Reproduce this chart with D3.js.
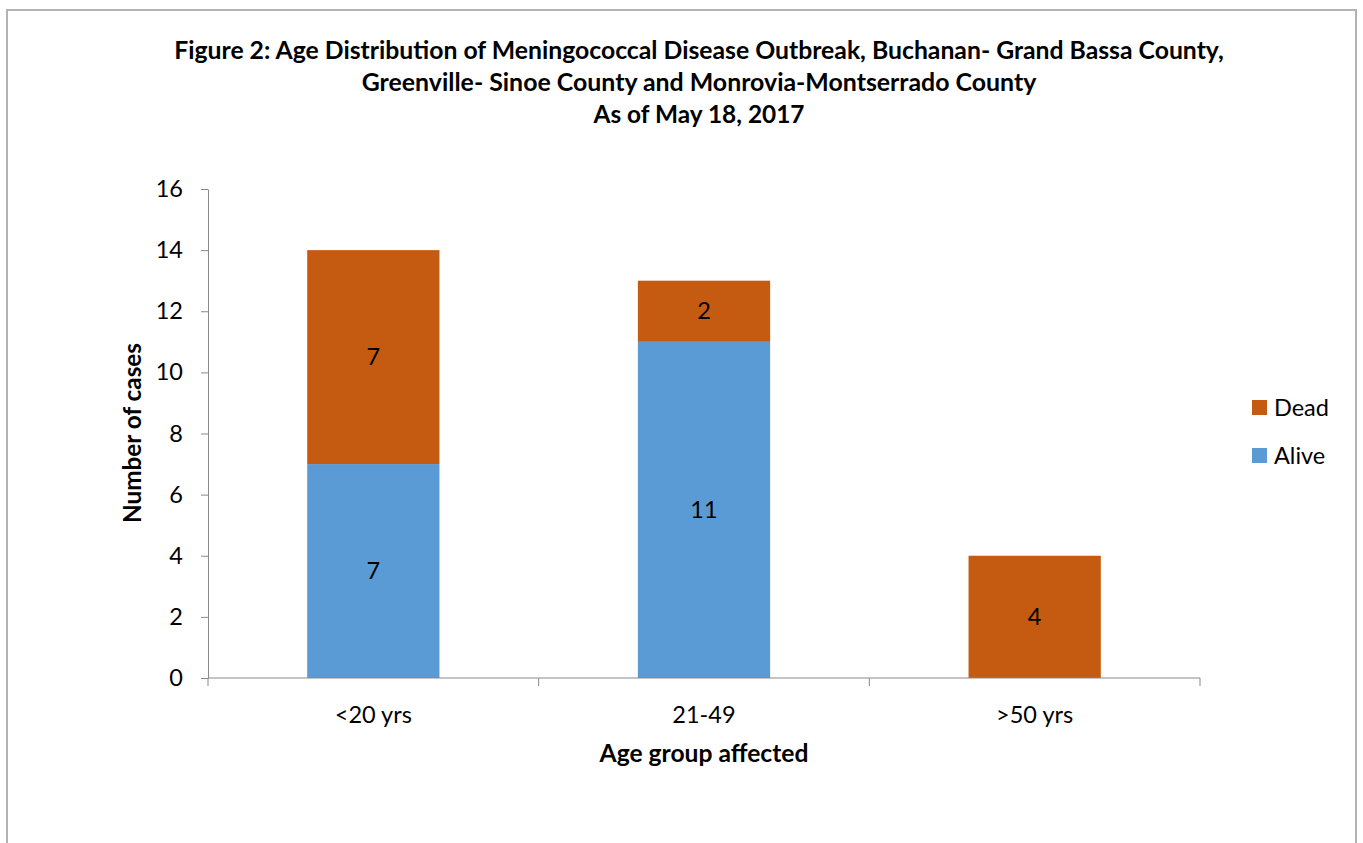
<!DOCTYPE html>
<html>
<head>
<meta charset="utf-8">
<script src="https://cdn.jsdelivr.net/npm/d3@7"></script>
<style>
  body { margin: 0; background: #fff; }
  svg { display: block; font-family: Lato, "Open Sans", sans-serif; }
</style>
</head>
<body>
<div id="chart"></div>
<script>
const categories = ['<20 yrs', '21-49', '>50 yrs'];
const alive = [7, 11, 0];
const dead = [7, 2, 4];
const yTicks = [0, 2, 4, 6, 8, 10, 12, 14, 16];
const titleLines = [
  'Figure 2: Age Distribution of Meningococcal Disease Outbreak, Buchanan- Grand Bassa County,',
  'Greenville- Sinoe County and Monrovia-Montserrado County',
  'As of May 18, 2017'
];

const width = 1363, height = 843;
const colors = { Dead: '#C55A11', Alive: '#5B9BD5' };
const axisColor = '#898989';
const labelSize = 23.5;

const svg = d3.select('#chart').append('svg')
  .attr('width', width)
  .attr('height', height);

// chart frame (bottom edge is cut off in the original)
svg.append('rect')
  .attr('x', 7).attr('y', 10)
  .attr('width', 1349).attr('height', 900)
  .attr('fill', '#fff')
  .attr('stroke', '#b3b3b3')
  .attr('stroke-width', 2);

// shrink/grow a text node so it spans the wanted width
function fit(sel, target) {
  sel.each(function () {
    const fs = parseFloat(this.getAttribute('font-size'));
    const w = this.getComputedTextLength();
    this.setAttribute('font-size', (fs * target / w).toFixed(2));
  });
}

const titleWidths = [1050, 675, 211];
svg.append('g').selectAll('text')
  .data(titleLines)
  .join('text')
  .attr('x', 699)
  .attr('y', (d, i) => 59 + i * 32)
  .attr('text-anchor', 'middle')
  .attr('font-weight', 'bold')
  .attr('font-size', 20)
  .attr('fill', '#000')
  .text((d) => d)
  .each(function (d, i) { fit(d3.select(this), titleWidths[i]); });

const x = d3.scaleBand()
  .domain(categories)
  .range([208, 1200])
  .paddingInner(0.6)
  .paddingOuter(0.3);

const y = d3.scaleLinear()
  .domain([0, 16])
  .range([678, 189]);

const rows = categories.map((c, i) => ({ cat: c, Alive: alive[i], Dead: dead[i] }));
const stack = d3.stack().keys(['Alive', 'Dead'])(rows);

const g = svg.append('g');

stack.forEach((layer) => {
  g.append('g')
    .attr('fill', colors[layer.key])
    .selectAll('rect')
    .data(layer.filter((d) => d[1] > d[0]))
    .join('rect')
    .attr('x', (d) => x(d.data.cat))
    .attr('y', (d) => y(d[1]))
    .attr('width', x.bandwidth())
    .attr('height', (d) => y(d[0]) - y(d[1]));

  g.append('g')
    .selectAll('text')
    .data(layer.filter((d) => d[1] > d[0]))
    .join('text')
    .attr('x', (d) => x(d.data.cat) + x.bandwidth() / 2)
    .attr('y', (d) => (y(d[0]) + y(d[1])) / 2)
    .attr('dy', '0.35em')
    .attr('text-anchor', 'middle')
    .attr('font-size', labelSize)
    .attr('fill', '#000')
    .text((d) => d[1] - d[0]);
});

// y axis
const yAxis = svg.append('g')
  .attr('transform', 'translate(208,0)')
  .call(d3.axisLeft(y).tickValues(yTicks).tickSize(7).tickPadding(18).tickSizeOuter(0));
yAxis.select('.domain').attr('stroke', axisColor);
yAxis.selectAll('.tick line').attr('stroke', axisColor);
yAxis.selectAll('.tick text')
  .attr('font-family', 'Lato, sans-serif')
  .attr('font-size', labelSize)
  .attr('fill', '#000');

// x axis: line with ticks at the category boundaries
const xBase = svg.append('g').attr('transform', `translate(0,${y(0)})`);
xBase.append('line')
  .attr('x1', x.range()[0]).attr('x2', x.range()[1])
  .attr('stroke', axisColor);
const bounds = d3.range(categories.length + 1).map((i) => x.range()[0] + i * x.step());
xBase.selectAll('.xtick')
  .data(bounds)
  .join('line')
  .attr('class', 'xtick')
  .attr('x1', (d) => d).attr('x2', (d) => d)
  .attr('y1', 0).attr('y2', 8)
  .attr('stroke', axisColor);
xBase.selectAll('.xlabel')
  .data(categories)
  .join('text')
  .attr('class', 'xlabel')
  .attr('x', (d) => x(d) + x.bandwidth() / 2)
  .attr('y', 45)
  .attr('text-anchor', 'middle')
  .attr('font-size', labelSize)
  .attr('fill', '#000')
  .text((d) => d);

// axis titles
svg.append('text')
  .attr('x', 704).attr('y', 762)
  .attr('text-anchor', 'middle')
  .attr('font-weight', 'bold')
  .attr('font-size', 22)
  .text('Age group affected')
  .call(fit, 209);

svg.append('text')
  .attr('transform', 'translate(141,433) rotate(-90)')
  .attr('text-anchor', 'middle')
  .attr('font-weight', 'bold')
  .attr('font-size', 22)
  .text('Number of cases')
  .call(fit, 180);

// legend
const legend = svg.append('g')
  .selectAll('g')
  .data(['Dead', 'Alive'])
  .join('g')
  .attr('transform', (d, i) => `translate(1252,${400 + i * 48})`);
legend.append('rect')
  .attr('width', 15).attr('height', 15)
  .attr('fill', (d) => colors[d]);
legend.append('text')
  .attr('x', 22).attr('y', 8)
  .attr('dy', '0.35em')
  .attr('font-size', labelSize)
  .attr('fill', '#000')
  .text((d) => d);
</script>
</body>
</html>
